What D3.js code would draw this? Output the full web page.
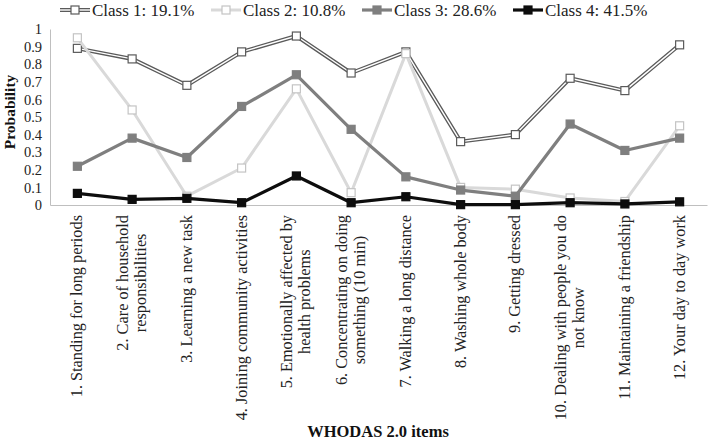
<!DOCTYPE html>
<html>
<head>
<meta charset="utf-8">
<script src="https://cdn.jsdelivr.net/npm/d3@7"></script>
<style>
  body { margin: 0; background: #fff; }
  svg { font-family: "Liberation Serif", "Times New Roman", serif; }
</style>
</head>
<body>
<div id="chart"></div>
<script>
// WHODAS 2.0 items (line breaks as in the original axis)
const items = [
    "1. Standing for long periods",
    "2. Care of household\nresponsibilities",
    "3. Learning a new task",
    "4. Joining community activities",
    "5. Emotionally affected by\nhealth problems",
    "6. Concentrating on doing\nsomething (10 min)",
    "7. Walking a long distance",
    "8. Washing whole body",
    "9. Getting dressed",
    "10. Dealing with people you do\nnot know",
    "11. Maintaining a friendship",
    "12. Your day to day work"
];

const classNames = ["Class 1: 19.1%", "Class 2: 10.8%", "Class 3: 28.6%", "Class 4: 41.5%"];

const class1 = [0.89, 0.83, 0.68, 0.87, 0.96, 0.75, 0.87, 0.36, 0.40, 0.72, 0.65, 0.91];
const class2 = [0.95, 0.54, 0.05, 0.21, 0.66, 0.07, 0.86, 0.10, 0.09, 0.04, 0.02, 0.45];
const class3 = [0.22, 0.38, 0.27, 0.56, 0.74, 0.43, 0.16, 0.085, 0.05, 0.46, 0.31, 0.38];
const class4 = [0.066, 0.032, 0.038, 0.013, 0.165, 0.013, 0.047, 0.002, 0.002, 0.013, 0.006, 0.018];

const yTicks = [0, 0.1, 0.2, 0.3, 0.4, 0.5, 0.6, 0.7, 0.8, 0.9, 1];

const width = 709, height = 443;
const margin = { top: 29, right: 2, bottom: 238, left: 50 };

const svg = d3.select("#chart").append("svg")
    .attr("width", width)
    .attr("height", height);

const x = d3.scaleBand()
    .domain(items)
    .range([margin.left, width - margin.right]);

const y = d3.scaleLinear()
    .domain([0, 1])
    .range([height - margin.bottom, margin.top]);

const cx = (d, i) => x(items[i]) + x.bandwidth() / 2;

// styles per series
const styles = [
    { line: "#5a5a5a", width: 4, inner: "#fff", marker: "#fff", mstroke: "#5a5a5a" },
    { line: "#d9d9d9", width: 3, inner: null, marker: "#fff", mstroke: "#c4c4c4" },
    { line: "#7f7f7f", width: 3.2, inner: null, marker: "#7f7f7f", mstroke: "#7f7f7f" },
    { line: "#0d0d0d", width: 3.2, inner: null, marker: "#0d0d0d", mstroke: "#0d0d0d" }
];
const series = [class1, class2, class3, class4];

// axes
const yAxis = d3.axisLeft(y).tickValues(yTicks).tickSize(0).tickPadding(8)
    .tickFormat(d => d === 0 ? "0" : d === 1 ? "1" : d3.format(".1f")(d));
const gy = svg.append("g")
    .attr("transform", `translate(${margin.left},0)`)
    .call(yAxis);
gy.select(".domain").attr("stroke", "#bfbfbf");
gy.selectAll("text").attr("font-size", 14.5).attr("fill", "#222")
    .style("font-family", "Liberation Serif");

const gx = svg.append("g")
    .attr("transform", `translate(0,${y(0)})`)
    .call(d3.axisBottom(x).tickSize(0).tickFormat(""));
gx.select(".domain").attr("stroke", "#bfbfbf");

// x labels, rotated and wrapped
const labelTop = y(0) + 10;
const lineH = 18;
svg.append("g").selectAll("text").data(items).join("text")
    .attr("font-size", 16.3)
    .attr("fill", "#222")
    .attr("text-anchor", "middle")
    .each(function(d) {
        const t = d3.select(this);
        const lines = d.split("\n");
        lines.forEach((s, k) => {
            t.append("tspan").attr("x", 0)
                .attr("y", (k - (lines.length - 1) / 2) * lineH + 5)
                .text(s);
        });
        let maxW = 0;
        t.selectAll("tspan").each(function() { maxW = Math.max(maxW, this.getComputedTextLength()); });
        const c = x(d) + x.bandwidth() / 2;
        t.attr("transform", `translate(${c},${labelTop + maxW / 2}) rotate(-90)`);
    });

// y title
svg.append("text")
    .attr("transform", `translate(15,112) rotate(-90)`)
    .attr("text-anchor", "middle")
    .attr("font-size", 15.5)
    .attr("font-weight", "bold")
    .attr("fill", "#111")
    .text("Probability");

// x title
svg.append("text")
    .attr("x", 378)
    .attr("y", 437)
    .attr("text-anchor", "middle")
    .attr("font-size", 16.5)
    .attr("font-weight", "bold")
    .attr("fill", "#111")
    .text("WHODAS 2.0 items");

// lines and markers
const line = d3.line().x(cx).y(d => y(d));
const ms = 8;
series.forEach((vals, s) => {
    const st = styles[s];
    const g = svg.append("g");
    g.append("path").datum(vals)
        .attr("fill", "none")
        .attr("stroke", st.line)
        .attr("stroke-width", st.width)
        .attr("stroke-linejoin", "round")
        .attr("d", line);
    if (st.inner) {
        g.append("path").datum(vals)
            .attr("fill", "none")
            .attr("stroke", st.inner)
            .attr("stroke-width", 1.4)
            .attr("stroke-linejoin", "round")
            .attr("d", line);
    }
    g.selectAll("rect").data(vals).join("rect")
        .attr("x", (d, i) => cx(d, i) - ms / 2)
        .attr("y", d => y(d) - ms / 2)
        .attr("width", ms)
        .attr("height", ms)
        .attr("fill", st.marker)
        .attr("stroke", st.mstroke)
        .attr("stroke-width", 1.2);
});

// legend
const legendX = [60, 211, 362, 513];
const leg = svg.append("g").selectAll("g").data(classNames).join("g")
    .attr("transform", (d, i) => `translate(${legendX[i]},10)`);
leg.each(function(d, i) {
    const g = d3.select(this);
    const st = styles[i];
    g.append("line").attr("x1", 0).attr("x2", 30).attr("y1", 0).attr("y2", 0)
        .attr("stroke", st.line).attr("stroke-width", st.width);
    if (st.inner) {
        g.append("line").attr("x1", 0).attr("x2", 30).attr("y1", 0).attr("y2", 0)
            .attr("stroke", st.inner).attr("stroke-width", 1.4);
    }
    g.append("rect").attr("x", 15 - ms / 2).attr("y", -ms / 2)
        .attr("width", ms).attr("height", ms)
        .attr("fill", st.marker).attr("stroke", st.mstroke).attr("stroke-width", 1.2);
    g.append("text").attr("x", 32).attr("y", 5.5)
        .attr("font-size", 17)
        .attr("fill", "#222")
        .text(d);
});
</script>
</body>
</html>
